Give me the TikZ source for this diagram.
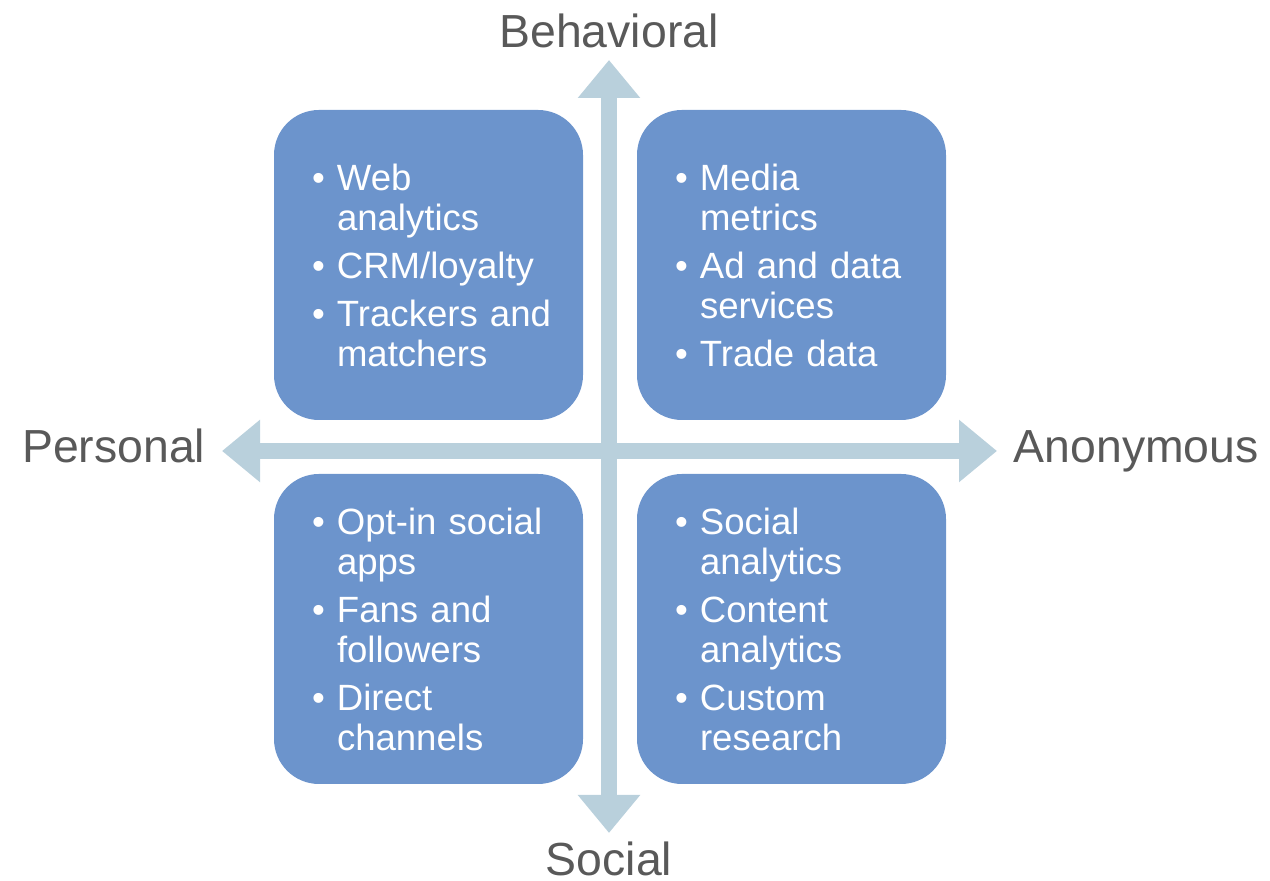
\documentclass[tikz,border=0pt]{standalone}
\usepackage{fontspec}
\setmainfont{Liberation Sans}
\usetikzlibrary{arrows.meta}

\definecolor{quadblue}{RGB}{108,148,204}
\definecolor{axisblue}{RGB}{185,208,220}
\definecolor{labelgray}{RGB}{89,89,89}

% one bullet line, and a line that continues the item above
\newcommand{\itm}[1]{\mbox{\makebox[0.25cm][l]{•}#1}}
\newcommand{\cnt}[1]{\mbox{\hspace*{0.25cm}#1}}

\begin{document}
\begin{tikzpicture}[
    quad/.style={rectangle, rounded corners=0.45cm, fill=quadblue, text=white,
        minimum width=3.09cm, minimum height=3.10cm, inner sep=0pt,
        text width=2.33cm, align=left,
        font=\fontsize{10.4pt}{11.38pt}\selectfont},
    axis/.style={axisblue, line width=0.16cm,
        {Triangle[width=0.6cm, length=0.38cm]}-{Triangle[width=0.6cm, length=0.38cm]}},
    pole/.style={inner sep=0pt, text=labelgray, font=\fontsize{13.2pt}{15pt}\selectfont}
]
\useasboundingbox (0,0) rectangle (12.70,8.81);

% ends of the two axes
\coordinate (top) at (6.09,8.21);
\coordinate (bottom) at (6.09,0.48);
\coordinate (left) at (2.22,4.30);
\coordinate (right) at (9.97,4.30);

\draw[axis] (bottom) -- (top);
\draw[axis] (left) -- (right);

\node[pole, anchor=base] (behav) at (6.09,8.33) {Behavioral};
\node[pole, anchor=base] (social) at (6.09,0.05) {Social};
\node[pole, anchor=base east] (personal) at (2.06,4.18) {Personal};
\node[pole, anchor=base west] (anon) at (10.13,4.18) {Anonymous};

% the four quadrants
\node[quad] (persbehav) at (4.285,6.16) {
    \itm{Web}\\ \cnt{analytics}\\[0.08cm]
    \itm{CRM/loyalty}\\[0.08cm]
    \itm{Trackers and}\\ \cnt{matchers}};
\node[quad] (anonbehav) at (7.915,6.16) {
    \itm{Media}\\ \cnt{metrics}\\[0.08cm]
    \itm{Ad and data}\\ \cnt{services}\\[0.08cm]
    \itm{Trade data}};
\node[quad] (perssocial) at (4.285,2.52) {
    \itm{Opt-in social}\\ \cnt{apps}\\[0.08cm]
    \itm{Fans and}\\ \cnt{followers}\\[0.08cm]
    \itm{Direct}\\ \cnt{channels}};
\node[quad] (anonsocial) at (7.915,2.52) {
    \itm{Social}\\ \cnt{analytics}\\[0.08cm]
    \itm{Content}\\ \cnt{analytics}\\[0.08cm]
    \itm{Custom}\\ \cnt{research}};
\end{tikzpicture}
\end{document}
